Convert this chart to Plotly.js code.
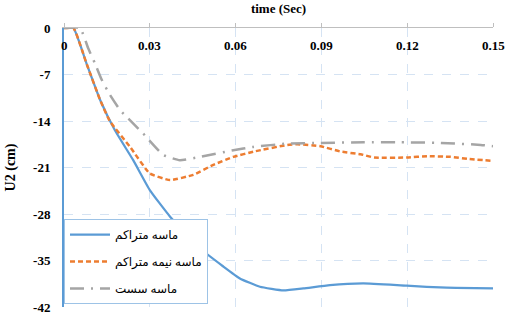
<!DOCTYPE html>
<html>
<head>
<meta charset="utf-8">
<script src="https://cdn.plot.ly/plotly-3.0.1.min.js"></script>
<style>html,body{margin:0;padding:0;background:#fff;}#chart{width:508px;height:318px;}</style>
</head>
<body>
<div id="chart"></div>
<script>
const seriesNames = ["ماسه متراکم", "ماسه نیمه متراکم", "ماسه سست"];

const denseT = [0, 0.0033, 0.008, 0.0126, 0.0178, 0.0242, 0.030, 0.0371, 0.0476, 0.0557, 0.0615, 0.0685, 0.0767, 0.0837, 0.093, 0.1047, 0.1198, 0.1338, 0.15];
const denseU = [0, 0, -5.5, -10.8, -15.4, -19.9, -24.4, -28.4, -33.2, -35.9, -37.7, -38.95, -39.5, -39.2, -38.7, -38.45, -38.8, -39.1, -39.2];

const semiT = [0, 0.0033, 0.008, 0.0126, 0.016, 0.0231, 0.030, 0.0371, 0.0452, 0.0522, 0.0592, 0.0664, 0.0781, 0.0816, 0.0897, 0.0967, 0.1037, 0.1084, 0.120, 0.127, 0.1352, 0.141, 0.15];
const semiU = [0, 0, -5.5, -10.8, -14.0, -17.9, -21.9, -22.9, -22.1, -20.6, -19.4, -18.6, -17.6, -17.5, -17.8, -18.6, -19.0, -19.5, -19.5, -19.3, -19.4, -19.7, -20.0];

const looseT = [0, 0.0056, 0.0085, 0.0108, 0.0132, 0.0161, 0.0196, 0.0277, 0.0347, 0.0405, 0.0476, 0.0592, 0.0662, 0.078, 0.0897, 0.1049, 0.1177, 0.1317, 0.1457, 0.15];
const looseU = [0, 0, -3.1, -5.3, -7.8, -10.1, -12.35, -15.9, -19.1, -19.9, -19.4, -18.4, -17.9, -17.4, -17.3, -17.2, -17.2, -17.3, -17.6, -17.8];

const xTicks = [0, 0.03, 0.06, 0.09, 0.12, 0.15];
const xTickText = ["0", "0.03", "0.06", "0.09", "0.12", "0.15"];
const yTicks = [0, -7, -14, -21, -28, -35, -42];
const yTickText = ["0", "-7", "-14", "-21", "-28", "-35", "-42"];

const serif = "Liberation Serif";
const legendFont = "Liberation Serif, DejaVu Sans";

const traces = [
  {x: denseT, y: denseU, name: seriesNames[0], legendgroup: "a", mode: "lines",
   line: {color: "#5b9bd5", width: 2.25, shape: "spline", smoothing: 0.4}},
  {x: semiT, y: semiU, name: seriesNames[1], legendgroup: "b", mode: "lines",
   line: {color: "#ed7d31", width: 2.5, dash: "5px,3px", shape: "spline", smoothing: 0.4}},
  {x: looseT, y: looseU, name: seriesNames[2], legendgroup: "c", mode: "lines",
   line: {color: "#a5a5a5", width: 2.5, dash: "14px,7px,2px,7px", shape: "spline", smoothing: 0.4}}
];

const tickAnnotations = xTicks.map((v, i) => ({
  x: v, y: 1, xref: "x", yref: "paper", yanchor: "middle", xanchor: "center",
  yshift: -17, showarrow: false, text: xTickText[i],
  font: {family: serif, size: 13, color: "#000", weight: "bold"}
}));

const layout = {
  width: 508, height: 318,
  margin: {l: 64, r: 15, t: 28, b: 11},
  paper_bgcolor: "#fff", plot_bgcolor: "#fff",
  showlegend: true,
  legend: {
    x: 0, y: 0.315, xanchor: "left", yanchor: "top",
    bgcolor: "#fff", bordercolor: "#9dc3e6", borderwidth: 1,
    font: {family: legendFont, size: 12, color: "#000"},
    tracegroupgap: 8, itemwidth: 40
  },
  annotations: tickAnnotations,
  xaxis: {
    side: "top", range: [0, 0.15],
    tickmode: "array", tickvals: xTicks, ticktext: xTickText,
    showticklabels: false,
    ticks: "outside", ticklen: 4, tickcolor: "#bfbfbf",
    showline: true, linecolor: "#bfbfbf", linewidth: 1,
    showgrid: true, gridcolor: "#d5e3f3", griddash: "dash", gridwidth: 1,
    zeroline: false,
    title: {text: "time (Sec)", font: {family: serif, size: 13, color: "#000", weight: "bold"}, standoff: 6}
  },
  yaxis: {
    range: [-42, 0],
    tickmode: "array", tickvals: yTicks, ticktext: yTickText,
    ticks: "", ticklabelstandoff: 9,
    showline: true, linecolor: "#5b9bd5", linewidth: 2,
    showgrid: true, gridcolor: "#d5e3f3", griddash: "dash", gridwidth: 1,
    zeroline: false,
    tickfont: {family: serif, size: 13, color: "#000", weight: "bold"},
    title: {text: "U2 (cm)", font: {family: serif, size: 14, color: "#000", weight: "bold"}, standoff: 14}
  }
};

Plotly.newPlot("chart", traces, layout, {displayModeBar: false, staticPlot: true});
</script>
</body>
</html>
